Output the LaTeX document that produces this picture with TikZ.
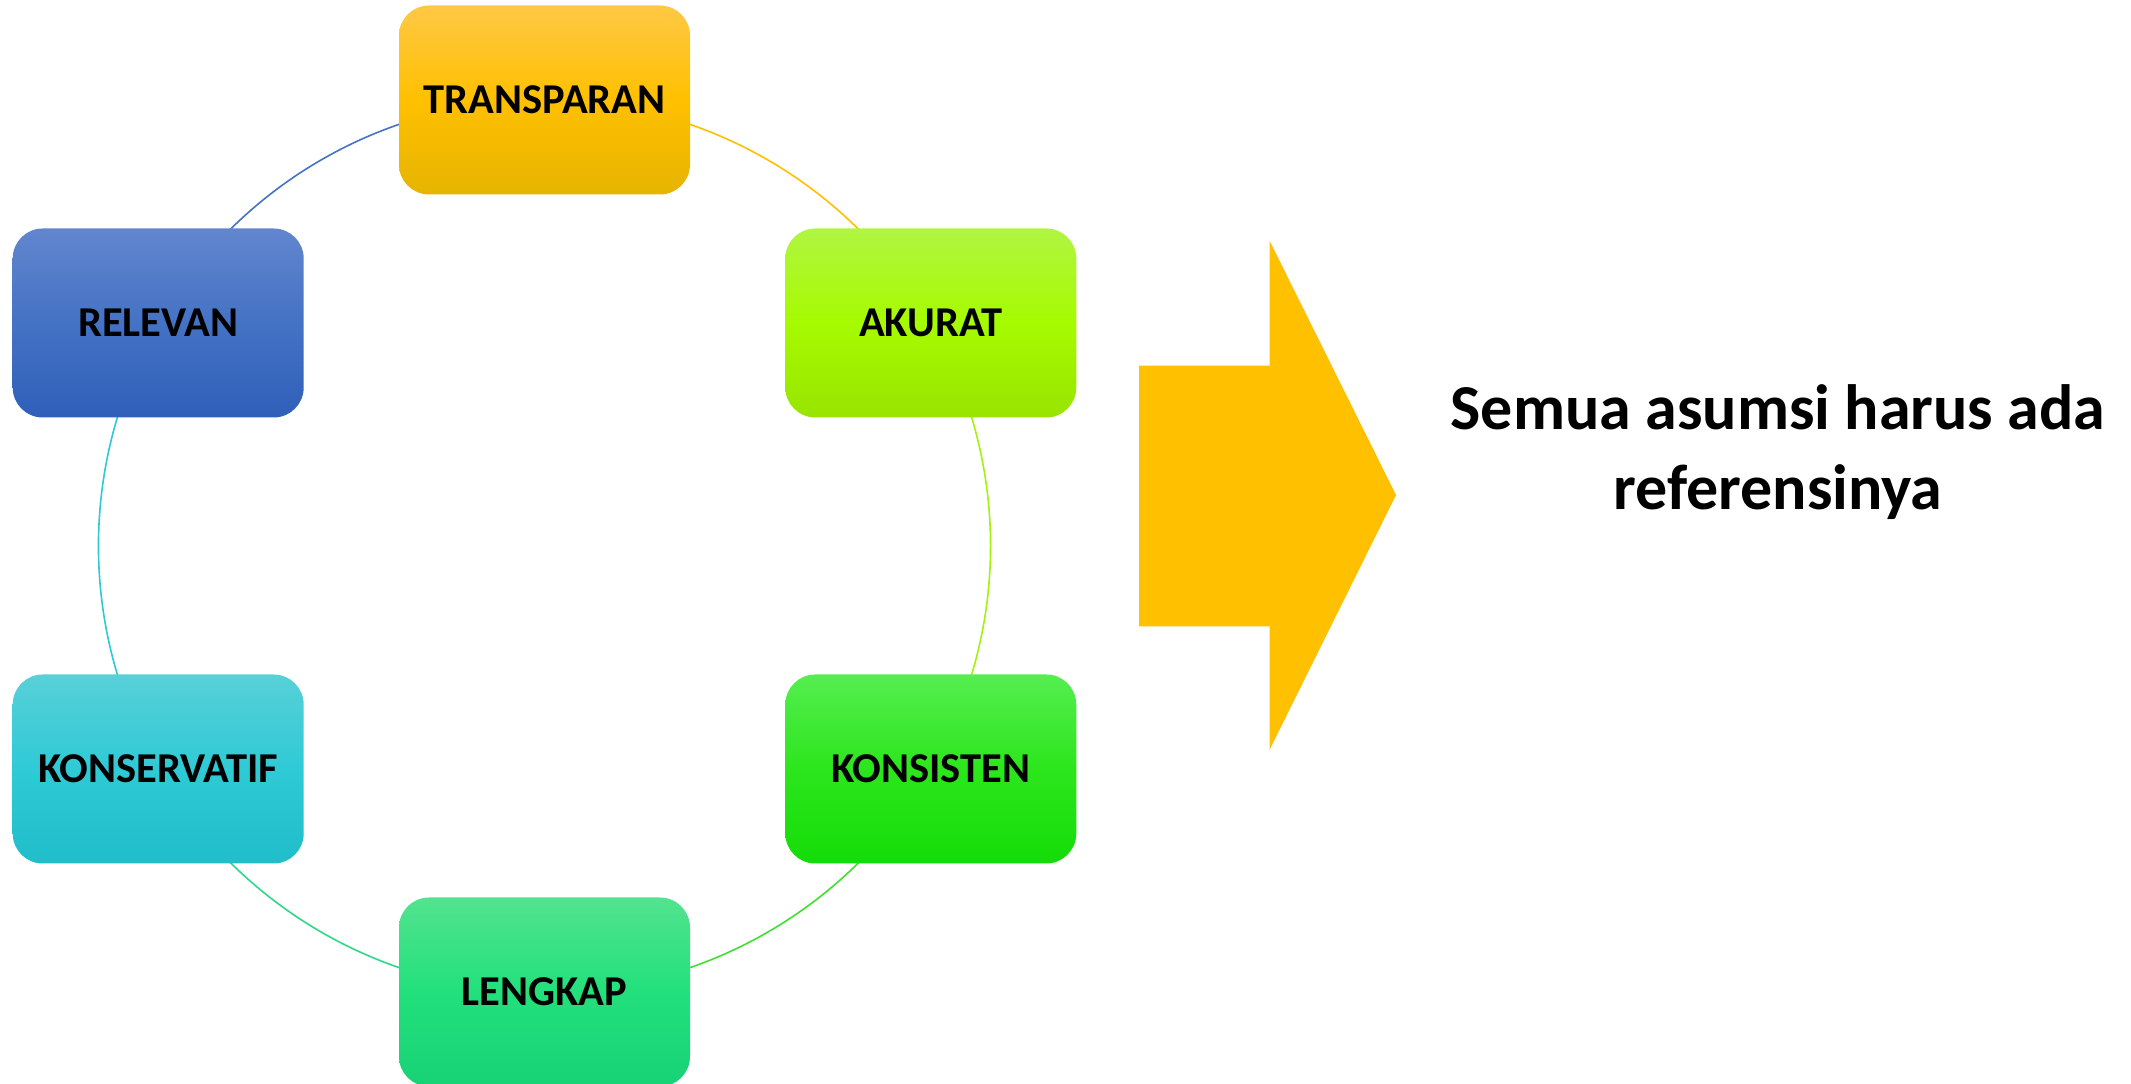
\documentclass[tikz,border=0pt]{standalone}
\usepackage{fontspec}
\setmainfont{Carlito}
\definecolor{tA}{HTML}{FFC845}\definecolor{tM}{HTML}{FFC000}\definecolor{tB}{HTML}{E6B400}
\definecolor{aA}{HTML}{B0F542}\definecolor{aM}{HTML}{A6FB00}\definecolor{aB}{HTML}{98E400}
\definecolor{kA}{HTML}{55EE50}\definecolor{kM}{HTML}{2CE61C}\definecolor{kB}{HTML}{14DC08}
\definecolor{lA}{HTML}{52E38E}\definecolor{lM}{HTML}{22E07C}\definecolor{lB}{HTML}{18D276}
\definecolor{cA}{HTML}{58D0D8}\definecolor{cM}{HTML}{2ECAD6}\definecolor{cB}{HTML}{20BECA}
\definecolor{rA}{HTML}{6286CE}\definecolor{rM}{HTML}{4472C4}\definecolor{rB}{HTML}{2F5FB9}
\definecolor{arrowc}{HTML}{FFC000}
\definecolor{lnT}{HTML}{FFC000}\definecolor{lnA}{HTML}{A6F010}\definecolor{lnK}{HTML}{40E030}
\definecolor{lnL}{HTML}{2ED88A}\definecolor{lnC}{HTML}{30C8D4}\definecolor{lnR}{HTML}{4472C4}
\begin{document}
\begin{tikzpicture}[x=1pt,y=1pt,
  box/.style={rounded corners=30pt,minimum width=291pt,minimum height=189pt,
    inner sep=0pt,font=\fontsize{42.5}{50}\selectfont\bfseries,text=black},
  conn/.style={line width=1.6pt}]
\useasboundingbox (0,0) rectangle (2131,1084);
\coordinate (C) at (544.5,538);
% connectors (drawn behind boxes)
\coordinate (pT) at (544.5,984);
\coordinate (pA) at (930.8,761);
\coordinate (pK) at (930.8,315);
\coordinate (pL) at (544.5,92);
\coordinate (pC) at (158.2,315);
\coordinate (pR) at (158.2,761);
\draw[conn,lnT] (pT) arc[start angle=90,end angle=30,radius=446];
\draw[conn,lnA] (pA) arc[start angle=30,end angle=-30,radius=446];
\draw[conn,lnK] (pK) arc[start angle=-30,end angle=-90,radius=446];
\draw[conn,lnL] (pL) arc[start angle=-90,end angle=-150,radius=446];
\draw[conn,lnC] (pC) arc[start angle=210,end angle=150,radius=446];
\draw[conn,lnR] (pR) arc[start angle=150,end angle=90,radius=446];
% boxes
\node[box,top color=tA,bottom color=tB,middle color=tM] (T) at (pT) {TRANSPARAN};
\node[box,top color=aA,bottom color=aB,middle color=aM] (A) at (pA) {AKURAT};
\node[box,top color=kA,bottom color=kB,middle color=kM] (K) at (pK) {KONSISTEN};
\node[box,top color=lA,bottom color=lB,middle color=lM] (L) at (pL) {LENGKAP};
\node[box,top color=cA,bottom color=cB,middle color=cM] (V) at (pC) {KONSERVATIF};
\node[box,top color=rA,bottom color=rB,middle color=rM] (R) at (pR) {RELEVAN};
% big arrow
\fill[arrowc] (1139,718.4) -- (1269.5,718.4) -- (1269.5,843.4) -- (1396,589)
  -- (1269.5,334) -- (1269.5,457.5) -- (1139,457.5) -- cycle;
% text
\node[font=\fontsize{64}{80}\selectfont\bfseries,align=center,inner sep=0pt] (S) at (1778,632)
  {Semua asumsi harus ada\\referensinya};
\end{tikzpicture}
\end{document}
